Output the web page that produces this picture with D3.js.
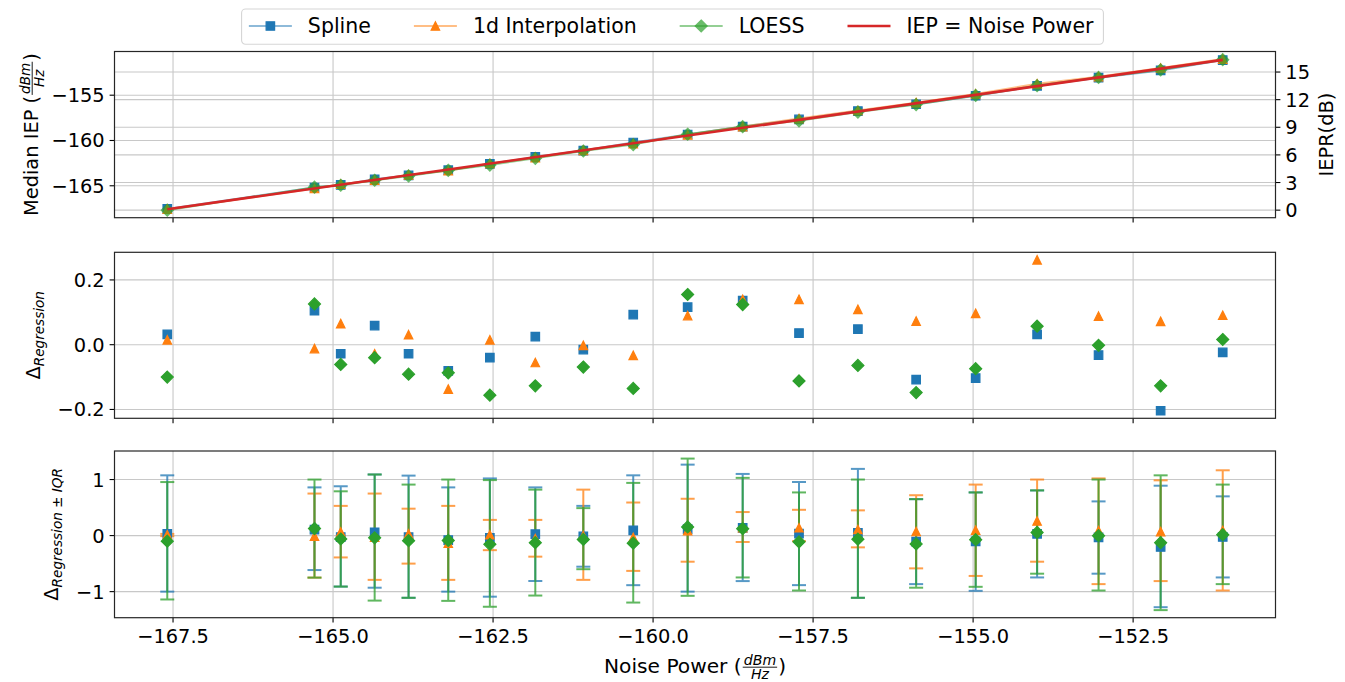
<!DOCTYPE html>
<html><head><meta charset="utf-8">
<script src="https://cdn.jsdelivr.net/npm/d3@7"></script>
<style>
body{margin:0;background:#fff;}
svg{display:block;}
text{font-family:"DejaVu Sans",sans-serif;fill:#000;}
</style>
</head><body>
<svg id="c" width="1345" height="682"></svg>
<script>
// ---------------- data ----------------
const noisePower = [-167.59,-165.29,-164.88,-164.35,-163.82,-163.20,-162.55,-161.84,-161.09,-160.31,
                    -159.46,-158.60,-157.72,-156.80,-155.89,-154.96,-154.00,-153.04,-152.07,-151.10];
const splineIEP = [-167.56,-165.19,-164.91,-164.29,-163.85,-163.28,-162.59,-161.82,-161.11,-160.22,
                   -159.34,-158.46,-157.68,-156.75,-156.00,-155.06,-153.97,-153.07,-152.27,-151.12];
const interpIEP = [-167.58,-165.30,-164.82,-164.38,-163.79,-163.34,-162.54,-161.90,-161.09,-160.34,
                   -159.37,-158.46,-157.58,-156.69,-155.82,-154.86,-153.74,-152.95,-152.00,-151.01];
const loessIEP  = [-167.69,-165.16,-164.94,-164.39,-163.91,-163.29,-162.71,-161.97,-161.16,-160.45,
                   -159.31,-158.48,-157.83,-156.86,-156.04,-155.03,-153.94,-153.04,-152.20,-151.08];
const splineDelta = [0.032,0.105,-0.028,0.059,-0.028,-0.081,-0.040,0.025,-0.015,0.093,
                     0.116,0.136,0.036,0.048,-0.108,-0.103,0.032,-0.032,-0.204,-0.024];
const interpDelta = [0.015,-0.012,0.065,-0.028,0.031,-0.137,0.015,-0.055,-0.002,-0.033,
                     0.090,0.140,0.140,0.109,0.073,0.097,0.262,0.088,0.072,0.091];
const loessDelta  = [-0.100,0.126,-0.061,-0.040,-0.091,-0.087,-0.156,-0.127,-0.069,-0.135,
                     0.155,0.124,-0.112,-0.064,-0.148,-0.074,0.057,-0.002,-0.127,0.016];
const splineIqrLow  = [-1.00,-0.615,-0.91,-0.93,-1.11,-1.00,-1.09,-0.81,-0.555,-0.885,
                       -1.00,-0.812,-0.884,-1.11,-0.866,-0.986,-0.747,-0.68,-1.278,-0.747];
const splineIqrHigh = [1.075,0.86,0.88,1.09,1.07,0.86,1.02,0.86,0.53,1.075,
                       1.266,1.10,0.956,1.19,0.65,0.77,0.806,0.61,0.89,0.70];
const interpIqrLow  = [-0.01,-0.75,-0.39,-0.79,-0.50,-0.79,-0.26,-0.376,-0.79,-0.63,
                       -0.466,-0.114,-0.10,-0.21,-0.585,-0.72,-0.466,-0.866,-0.812,-0.98];
const interpIqrHigh = [0.03,0.75,0.53,0.75,0.48,0.53,0.28,0.28,0.82,0.59,
                       0.657,0.42,0.46,0.45,0.72,0.91,1.00,1.02,0.986,1.165];
const loessIqrLow   = [-1.14,-0.75,-0.91,-1.16,-1.11,-1.165,-1.27,-1.07,-0.60,-1.195,
                       -1.075,-0.747,-0.98,-1.11,-0.93,-0.914,-0.68,-0.98,-1.33,-0.866];
const loessIqrHigh  = [0.955,1.0,0.79,1.09,0.91,1.0,0.99,0.82,0.49,0.94,
                       1.374,1.03,0.77,1.0,0.65,0.77,0.806,1.0,1.075,0.91];
const ieprExtent = [0, 16.41];
const xTickValues = [-167.5,-165,-162.5,-160,-157.5,-155,-152.5];
const iepTicks = [-165,-160,-155];
const ieprTicks = [0,3,6,9,12,15];
const deltaTicks = [-0.2,0,0.2];
const iqrTicks = [-1,0,1];
const seriesNames = ["Spline","1d Interpolation","LOESS","IEP = Noise Power"];

// ---------------- layout / style ----------------
const COLORS = ["#1f77b4","#ff7f0e","#2ca02c","#d62728"];
const SHAPES = ["square","triangle","diamond"];
const FS = 19.4;
const FS_LEG = 20.5;
const FS_XLAB = 20.2;
const L = 114.5, R = 1275.5;
const P_TOP = [51.5, 217.7], P_MID = [252.3, 418.3], P_BOT = [451, 617.7];
const MS = 8.5;

const svg = d3.select("#c");
const pad = ([a,b]) => [a-(b-a)*0.05, b+(b-a)*0.05];

const x = d3.scaleLinear().domain(pad(d3.extent(noisePower))).range([L,R]);

const iepAll = noisePower.concat(splineIEP, interpIEP, loessIEP);
const yTop = d3.scaleLinear().domain(pad(d3.extent(iepAll))).range([P_TOP[1],P_TOP[0]]);
const yTopR = d3.scaleLinear().domain(pad(ieprExtent)).range([P_TOP[1],P_TOP[0]]);
const yMid = d3.scaleLinear().domain(pad(d3.extent(splineDelta.concat(interpDelta, loessDelta)))).range([P_MID[1],P_MID[0]]);
const yBot = d3.scaleLinear().domain(pad(d3.extent(splineIqrLow.concat(splineIqrHigh, interpIqrLow, interpIqrHigh, loessIqrLow, loessIqrHigh)))).range([P_BOT[1],P_BOT[0]]);

function markerPath(shape, s) {
  const h = s/2;
  if (shape === "square") return `M${-h},${-h}H${h}V${h}H${-h}Z`;
  if (shape === "triangle") return `M0,${-h}L${h},${h}L${-h},${h}Z`;
  const r = s*Math.SQRT1_2;
  return `M0,${-r}L${r},0L0,${r}L${-r},0Z`;
}
function drawMarkers(g, xs, ys, k, opacity) {
  g.append("g").selectAll("path").data(xs).join("path")
    .attr("d", markerPath(SHAPES[k], MS))
    .attr("transform", (d,i) => `translate(${x(d)},${ys[i]})`)
    .attr("fill", COLORS[k]).attr("stroke", COLORS[k]).attr("stroke-width", 1.2)
    .attr("opacity", opacity == null ? 1 : opacity);
}

function panel(range, yScale, yTicks, fmt, opts) {
  const g = svg.append("g");
  const grid = g.append("g").attr("stroke","#c8c8c8").attr("stroke-width",1.1);
  xTickValues.forEach(v => grid.append("line").attr("x1",x(v)).attr("x2",x(v)).attr("y1",range[0]).attr("y2",range[1]));
  yTicks.forEach(v => grid.append("line").attr("x1",L).attr("x2",R).attr("y1",yScale(v)).attr("y2",yScale(v)));
  if (opts && opts.rightScale) {
    opts.rightTicks.forEach(v => grid.append("line").attr("x1",L).attr("x2",R).attr("y1",opts.rightScale(v)).attr("y2",opts.rightScale(v)));
  }
  const content = g.append("g");
  const axes = g.append("g");
  const tk = axes.append("g").attr("stroke","#000").attr("stroke-width",1.1);
  xTickValues.forEach(v => tk.append("line").attr("x1",x(v)).attr("x2",x(v)).attr("y1",range[1]).attr("y2",range[1]+4.9));
  yTicks.forEach(v => tk.append("line").attr("x1",L-4.9).attr("x2",L).attr("y1",yScale(v)).attr("y2",yScale(v)));
  yTicks.forEach(v => axes.append("text").attr("x",L-9.8).attr("y",yScale(v)).attr("dy","0.36em")
     .attr("text-anchor","end").style("font-size",FS+"px").text(d3.format(fmt)(v)));
  if (opts && opts.rightScale) {
    opts.rightTicks.forEach(v => {
      tk.append("line").attr("x1",R).attr("x2",R+4.9).attr("y1",opts.rightScale(v)).attr("y2",opts.rightScale(v));
      axes.append("text").attr("x",R+9.8).attr("y",opts.rightScale(v)).attr("dy","0.36em")
        .style("font-size",FS+"px").text(d3.format("d")(v));
    });
  }
  if (opts && opts.xLabels) {
    xTickValues.forEach(v => axes.append("text").attr("x",x(v)).attr("y",range[1]+25.5)
      .attr("text-anchor","middle").style("font-size",FS+"px").text(d3.format(".1f")(v)));
  }
  axes.append("rect").attr("x",L).attr("y",range[0]).attr("width",R-L).attr("height",range[1]-range[0])
    .attr("fill","none").attr("stroke","#262626").attr("stroke-width",1.2);
  return content;
}

// ---------- top panel ----------
const cTop = panel(P_TOP, yTop, iepTicks, "d", {rightScale: yTopR, rightTicks: ieprTicks});
const topSeries = [splineIEP, interpIEP, loessIEP];
topSeries.forEach((vals,k) => {
  const line = d3.line().x((d,i)=>x(noisePower[i])).y(d=>yTop(d));
  cTop.append("path").attr("d", line(vals)).attr("fill","none").attr("stroke",COLORS[k])
    .attr("stroke-width",2).attr("opacity",0.5);
  drawMarkers(cTop, noisePower, vals.map(v=>yTop(v)), k, k===2 ? 0.7 : 1);
});
cTop.append("path").attr("d", d3.line().x(d=>x(d)).y(d=>yTop(d))(d3.extent(noisePower)))
  .attr("fill","none").attr("stroke",COLORS[3]).attr("stroke-width",2.6);

// ---------- middle panel ----------
const cMid = panel(P_MID, yMid, deltaTicks, ".1f");
[splineDelta, interpDelta, loessDelta].forEach((vals,k) => {
  drawMarkers(cMid, noisePower, vals.map(v=>yMid(v)), k);
});

// ---------- bottom panel ----------
const cBot = panel(P_BOT, yBot, iqrTicks, "d", {xLabels:true});
const lows = [splineIqrLow, interpIqrLow, loessIqrLow];
const highs = [splineIqrHigh, interpIqrHigh, loessIqrHigh];
const deltas = [splineDelta, interpDelta, loessDelta];
lows.forEach((lo,k) => {
  const eg = cBot.append("g").attr("stroke",COLORS[k]).attr("stroke-width",2).attr("opacity",0.75);
  noisePower.forEach((xv,i) => {
    const px = x(xv);
    eg.append("line").attr("x1",px).attr("x2",px).attr("y1",yBot(lo[i])).attr("y2",yBot(highs[k][i]));
    [lo[i], highs[k][i]].forEach(v => eg.append("line").attr("x1",px-7).attr("x2",px+7).attr("y1",yBot(v)).attr("y2",yBot(v)));
  });
});
deltas.forEach((vals,k) => drawMarkers(cBot, noisePower, vals.map(v=>yBot(v)), k));

// ---------- labels ----------
function fracLabel(g, prefix, num, den, suffix, fs) {
  const t1 = g.append("text").attr("x",0).attr("y",0).style("font-size",fs+"px").text(prefix);
  let cx = t1.node().getComputedTextLength() + 1;
  const fsz = fs*0.7;
  const tn = g.append("text").style("font-size",fsz+"px").style("font-style","italic").text(num);
  const td = g.append("text").style("font-size",fsz+"px").style("font-style","italic").text(den);
  const fw = Math.max(tn.node().getComputedTextLength(), td.node().getComputedTextLength()) + 2;
  tn.attr("x",cx+fw/2).attr("y",-8.5).attr("text-anchor","middle");
  td.attr("x",cx+fw/2).attr("y",5.5).attr("text-anchor","middle");
  g.append("line").attr("x1",cx).attr("x2",cx+fw).attr("y1",-5.8).attr("y2",-5.8).attr("stroke","#000").attr("stroke-width",0.9);
  cx += fw + 1;
  const t3 = g.append("text").attr("x",cx).attr("y",0).style("font-size",fs+"px").text(suffix);
  return cx + t3.node().getComputedTextLength();
}
function deltaLabel(g, sub) {
  const t = g.append("text").attr("x",0).attr("y",0).style("font-size",FS+"px");
  t.append("tspan").text("Δ");
  t.append("tspan").attr("dy",4).style("font-size",(FS*0.7)+"px").style("font-style","italic").text(sub);
  return t.node().getComputedTextLength();
}
{
  const g = svg.append("g");
  const w = fracLabel(g, "Noise Power (", "dBm", "Hz", ")", FS_XLAB);
  g.attr("transform", `translate(${(L+R)/2 - w/2},673)`);
}
{
  const g = svg.append("g");
  const w = fracLabel(g, "Median IEP (", "dBm", "Hz", ")", FS);
  const cy = (P_TOP[0]+P_TOP[1])/2;
  g.attr("transform", `translate(38,${cy + w/2}) rotate(-90)`);
}
{
  const cy = (P_TOP[0]+P_TOP[1])/2;
  svg.append("text").attr("transform",`translate(1333,${cy}) rotate(-90)`).attr("text-anchor","middle")
    .style("font-size",FS+"px").text("IEPR(dB)");
}
{
  const g = svg.append("g");
  const w = deltaLabel(g, "Regression");
  const cy = (P_MID[0]+P_MID[1])/2;
  g.attr("transform", `translate(40,${cy + w/2}) rotate(-90)`);
}
{
  const g = svg.append("g");
  const w = deltaLabel(g, "Regression \u00B1 IQR");
  const cy = (P_BOT[0]+P_BOT[1])/2;
  g.attr("transform", `translate(58,${cy + w/2}) rotate(-90)`);
}

// ---------- legend ----------
{
  const lg = svg.append("g");
  const box = lg.append("rect");
  const HANDLE = 43, TPAD = 16, COLSP = 43, LPAD = 7.3, RPAD = 10;
  let cx = LPAD;
  const yc = 26;
  seriesNames.forEach((name,k) => {
    lg.append("line").attr("x1",cx).attr("x2",cx+HANDLE).attr("y1",yc).attr("y2",yc)
      .attr("stroke",COLORS[k]).attr("stroke-width", k===3 ? 2.6 : 2).attr("opacity", k===3 ? 1 : 0.5);
    if (k < 3) {
      lg.append("path").attr("d", markerPath(SHAPES[k], MS)).attr("transform",`translate(${cx+HANDLE/2},${yc})`)
        .attr("fill",COLORS[k]).attr("stroke",COLORS[k]).attr("stroke-width",1.2).attr("opacity", k===2 ? 0.7 : 1);
    }
    const t = lg.append("text").attr("x",cx+HANDLE+TPAD).attr("y",yc+7.3).style("font-size",FS_LEG+"px").text(name);
    cx += HANDLE + TPAD + t.node().getComputedTextLength();
    if (k < 3) cx += COLSP;
  });
  const W = cx + RPAD;
  box.attr("x",0).attr("y",9).attr("width",W).attr("height",35.3).attr("rx",4)
    .attr("fill","#fff").attr("stroke","#d6d6d6").attr("stroke-width",1.1);
  lg.attr("transform", `translate(${672.5 - W/2},0)`);
}
</script>
</body></html>
